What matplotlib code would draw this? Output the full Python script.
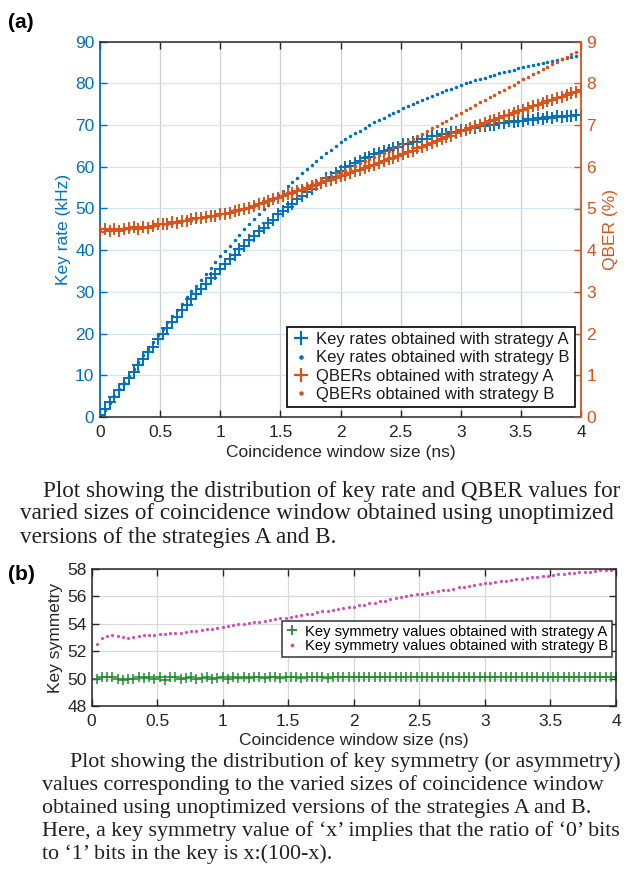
import numpy as np
import matplotlib
matplotlib.use('Agg')
import matplotlib.pyplot as plt
from matplotlib.lines import Line2D

plt.rcParams['font.family'] = ['Liberation Sans', 'DejaVu Sans']

# ---------------- data ----------------
step = 0.04
xtick_vals = [0, 0.5, 1, 1.5, 2, 2.5, 3, 3.5, 4]
xtick_labels = ['0', '0.5', '1', '1.5', '2', '2.5', '3', '3.5', '4']

# panel (a): x = 0, 0.04, ..., 4.00
key_a = [0.4, 1.9, 3.5, 4.8, 6.5, 7.8, 9.4, 10.8, 12.5, 13.9,
         15.6, 16.9, 18.6, 20.0, 21.3, 22.9, 24.1, 25.7, 26.9, 28.4,
         29.4, 30.8, 31.8, 33.3, 34.3, 35.6, 36.6, 37.9, 38.8, 40.2,
         41.1, 42.4, 43.3, 44.5, 45.3, 46.5, 47.3, 48.6, 49.3, 50.4,
         51.1, 52.2, 52.9, 54.0, 54.7, 55.7, 56.2, 57.2, 57.6, 58.6,
         59.1, 59.9, 60.3, 61.0, 61.3, 62.0, 62.4, 63.0, 63.2, 63.8,
         64.0, 64.6, 64.8, 65.4, 65.5, 65.9, 66.0, 66.6, 66.6, 67.3,
         67.3, 67.8, 67.8, 68.4, 68.4, 68.9, 68.9, 69.3, 69.3, 69.7,
         69.7, 70.1, 70.0, 70.5, 70.4, 70.9, 70.7, 71.1, 71.0, 71.5,
         71.2, 71.7, 71.4, 71.9, 71.7, 72.2, 71.9, 72.3, 72.1, 72.5,
         72.4]
key_b = [0.0, 1.65, 3.3, 4.95, 6.6, 8.25, 9.9, 11.5, 13.1, 14.8,
         16.4, 18.1, 19.7, 21.2, 22.7, 24.2, 25.7, 27.2, 28.7, 30.2,
         31.5, 32.9, 34.3, 35.7, 37.1, 38.5, 39.8, 41.1, 42.4, 43.7,
         45.0, 46.3, 47.5, 48.6, 49.8, 50.9, 52.1, 53.2, 54.3, 55.3,
         56.4, 57.4, 58.5, 59.5, 60.5, 61.4, 62.3, 63.2, 64.1, 65.0,
         65.9, 66.6, 67.3, 68.0, 68.7, 69.4, 70.1, 70.7, 71.3, 71.8,
         72.4, 72.9, 73.5, 74.0, 74.5, 75.0, 75.5, 76.0, 76.5, 77.0,
         77.4, 77.9, 78.3, 78.7, 79.2, 79.6, 80.0, 80.3, 80.7, 81.1,
         81.4, 81.8, 82.1, 82.4, 82.7, 83.0, 83.3, 83.6, 83.9, 84.2,
         84.4, 84.7, 84.9, 85.2, 85.4, 85.7, 85.9, 86.1, 86.4, 86.6,
         86.9]
qber_a = [4.44, 4.50, 4.46, 4.52, 4.47, 4.50, 4.53, 4.56, 4.52, 4.55,
          4.53, 4.58, 4.62, 4.64, 4.62, 4.67, 4.66, 4.69, 4.71, 4.74,
          4.78, 4.77, 4.80, 4.82, 4.83, 4.86, 4.88, 4.90, 4.93, 4.96,
          4.99, 5.02, 5.06, 5.10, 5.14, 5.18, 5.22, 5.26, 5.30, 5.34,
          5.37, 5.41, 5.45, 5.49, 5.53, 5.57, 5.61, 5.65, 5.69, 5.73,
          5.77, 5.81, 5.85, 5.89, 5.93, 5.97, 6.01, 6.05, 6.09, 6.13,
          6.18, 6.22, 6.26, 6.30, 6.35, 6.39, 6.44, 6.48, 6.53, 6.57,
          6.62, 6.66, 6.71, 6.75, 6.80, 6.85, 6.89, 6.93, 6.97, 7.01,
          7.05, 7.09, 7.13, 7.17, 7.21, 7.25, 7.29, 7.33, 7.37, 7.41,
          7.45, 7.49, 7.53, 7.57, 7.61, 7.65, 7.68, 7.72, 7.76, 7.80,
          7.84]
qber_b = [4.47, 4.48, 4.48, 4.49, 4.50, 4.51, 4.52, 4.53, 4.54, 4.56,
          4.57, 4.59, 4.61, 4.63, 4.64, 4.66, 4.68, 4.70, 4.72, 4.74,
          4.76, 4.78, 4.80, 4.82, 4.84, 4.86, 4.89, 4.91, 4.94, 4.97,
          5.00, 5.03, 5.07, 5.12, 5.16, 5.21, 5.25, 5.30, 5.35, 5.39,
          5.43, 5.48, 5.52, 5.57, 5.61, 5.66, 5.70, 5.75, 5.79, 5.84,
          5.88, 5.93, 5.98, 6.03, 6.08, 6.13, 6.18, 6.23, 6.28, 6.34,
          6.39, 6.44, 6.50, 6.55, 6.61, 6.67, 6.73, 6.79, 6.85, 6.92,
          6.98, 7.04, 7.11, 7.17, 7.24, 7.30, 7.36, 7.42, 7.48, 7.55,
          7.61, 7.67, 7.73, 7.79, 7.85, 7.91, 7.97, 8.04, 8.10, 8.16,
          8.22, 8.28, 8.34, 8.40, 8.46, 8.52, 8.58, 8.64, 8.70, 8.76,
          8.82]

# panel (b): x = 0.04, 0.08, ..., 4.00
sym_a = [50.0, 50.15, 50.1, 50.15, 49.95, 49.9, 49.95, 50.0, 50.1, 50.05,
         50.15, 49.95, 50.1, 49.9, 50.1, 50.15, 50.0, 50.05, 50.1, 49.95,
         50.05, 50.1, 50.0, 50.05, 50.1, 50.0, 50.1, 50.05, 50.1, 50.05,
         50.1, 50.1, 50.05, 50.1, 50.1, 50.05, 50.1, 50.15, 50.1, 50.05,
         50.1, 50.1, 50.15, 50.1, 50.05, 50.1, 50.1, 50.15, 50.1, 50.1,
         50.15, 50.1, 50.1, 50.15, 50.1, 50.1, 50.15, 50.1, 50.1, 50.15,
         50.1, 50.15, 50.15, 50.1, 50.1, 50.15, 50.1, 50.15, 50.1, 50.1,
         50.15, 50.1, 50.15, 50.15, 50.1, 50.15, 50.1, 50.15, 50.15, 50.1,
         50.15, 50.1, 50.15, 50.1, 50.15, 50.15, 50.1, 50.15, 50.1, 50.15,
         50.15, 50.1, 50.15, 50.15, 50.1, 50.15, 50.15, 50.1, 50.15, 50.15]
sym_b = [52.5, 52.95, 53.1, 53.2, 53.1, 53.05, 53.0, 53.05, 53.1, 53.15,
         53.15, 53.2, 53.25, 53.25, 53.3, 53.3, 53.35, 53.4, 53.45, 53.5,
         53.55, 53.6, 53.65, 53.7, 53.8, 53.85, 53.9, 53.95, 54.0, 54.05,
         54.1, 54.15, 54.2, 54.3, 54.35, 54.4, 54.45, 54.5, 54.6, 54.65,
         54.7, 54.75, 54.85, 54.9, 54.95, 55.0, 55.1, 55.15, 55.2, 55.25,
         55.35, 55.4, 55.5, 55.55, 55.65, 55.7, 55.8, 55.85, 55.95, 56.0,
         56.1, 56.15, 56.2, 56.25, 56.3, 56.4, 56.45, 56.5, 56.55, 56.65,
         56.7, 56.75, 56.8, 56.9, 56.95, 57.0, 57.05, 57.1, 57.15, 57.2,
         57.25, 57.3, 57.35, 57.4, 57.45, 57.5, 57.5, 57.55, 57.6, 57.65,
         57.7, 57.7, 57.75, 57.8, 57.8, 57.85, 57.9, 57.9, 57.95, 58.0]

legend_a = ['Key rates obtained with strategy A', 'Key rates obtained with strategy B',
            'QBERs obtained with strategy A', 'QBERs obtained with strategy B']
legend_b = ['Key symmetry values obtained with strategy A',
            'Key symmetry values obtained with strategy B']

caption_1 = ['Plot showing the distribution of key rate and QBER values for',
             'varied sizes of coincidence window obtained using unoptimized',
             'versions of the strategies A and B.']
caption_2 = ['Plot showing the distribution of key symmetry (or asymmetry)',
             'values corresponding to the varied sizes of coincidence window',
             'obtained using unoptimized versions of the strategies A and B.',
             'Here, a key symmetry value of \u2018x\u2019 implies that the ratio of \u20180\u2019 bits',
             'to \u20181\u2019 bits in the key is x:(100-x).']

# ---------------- styling ----------------
BLUE = '#0072BD'
ORANGE = '#D95319'
GREEN = '#1F8A2E'
PINK = '#D24DBE'
DARK = '#262626'
W, H = 624, 886
FS = 12.5

fig = plt.figure(figsize=(W / 100, H / 100), dpi=100)

x_a = np.round(np.arange(len(key_a)) * step, 2)
x_b = np.round(np.arange(1, len(sym_a) + 1) * step, 2)

# ---------- panel (a) ----------
ax1 = fig.add_axes([100 / W, 1 - 417 / H, 481 / W, 375.3 / H])
ax2 = ax1.twinx()

ax1.plot(x_a, key_a, ls='none', marker='+', ms=8.5, mew=1.4, color=BLUE)
ax1.plot(x_a, key_b, ls='none', marker='.', ms=3.0, color=BLUE)
ax2.plot(x_a, qber_a, ls='none', marker='+', ms=8.5, mew=1.4, color=ORANGE)
ax2.plot(x_a, qber_b, ls='none', marker='.', ms=3.0, color=ORANGE)

ax1.set_xlim(0, 4)
ax1.set_ylim(0, 90)
ax2.set_ylim(0, 9)
ax1.set_xticks(xtick_vals)
ax1.set_xticklabels(xtick_labels)
ax1.set_yticks(range(0, 91, 10))
ax2.set_yticks(range(0, 10))

ax1.xaxis.grid(True, color='#cfcfcf', lw=0.9)
ax1.yaxis.grid(True, color='#d3e5f3', lw=0.9)
ax1.set_axisbelow(True)

ax1.tick_params(axis='x', direction='in', top=True, length=5, width=1,
                colors=DARK, labelsize=FS, pad=6)
ax1.tick_params(axis='y', direction='in', length=5, width=1,
                colors=BLUE, labelsize=FS, pad=4)
ax2.tick_params(axis='y', direction='in', length=5, width=1,
                colors=ORANGE, labelsize=FS, pad=4)

for s in ['top', 'bottom']:
    ax1.spines[s].set_color(DARK)
    ax1.spines[s].set_linewidth(1.1)
ax1.spines['left'].set_color(BLUE)
ax1.spines['left'].set_linewidth(1.3)
ax1.spines['right'].set_visible(False)
for s in ['left', 'top', 'bottom']:
    ax2.spines[s].set_visible(False)
ax2.spines['right'].set_color(ORANGE)
ax2.spines['right'].set_linewidth(1.3)

ax1.set_xlabel('Coincidence window size (ns)', fontsize=FS, color=DARK, labelpad=3)
ax1.set_ylabel('Key rate (kHz)', fontsize=FS, color=BLUE, labelpad=3)
ax2.set_ylabel('QBER (%)', fontsize=FS, color=ORANGE, labelpad=5)

handles_a = [Line2D([], [], ls='none', marker='+', ms=10, mew=1.6, color=BLUE),
             Line2D([], [], ls='none', marker='.', ms=4.5, color=BLUE),
             Line2D([], [], ls='none', marker='+', ms=10, mew=1.6, color=ORANGE),
             Line2D([], [], ls='none', marker='.', ms=4.5, color=ORANGE)]
leg = ax2.legend(handles_a, legend_a, loc='lower right', bbox_to_anchor=(0.9875, 0.0266),
                 borderaxespad=0, fontsize=12, frameon=True, fancybox=False,
                 edgecolor='black', framealpha=1, labelspacing=0.2, handlelength=1.0,
                 handletextpad=0.45, borderpad=0.3)
leg.get_frame().set_linewidth(1.2)
for t in leg.get_texts():
    t.set_color('#1a1a1a')

fig.text(8 / W, 1 - 22 / H, '(a)', fontsize=15, fontweight='bold', va='center', ha='left')

# ---------- panel (b) ----------
axb = fig.add_axes([91.5 / W, 1 - 706 / H, 524.5 / W, 137 / H])
axb.plot(x_b, sym_a, ls='none', marker='+', ms=6.5, mew=1.1, color=GREEN)
axb.plot(x_b, sym_b, ls='none', marker='.', ms=2.6, color=PINK)
axb.set_xlim(0, 4)
axb.set_ylim(48, 58)
axb.set_xticks(xtick_vals)
axb.set_xticklabels(xtick_labels)
axb.set_yticks(range(48, 59, 2))
axb.grid(True, color='#d9d9d9', lw=0.9)
axb.set_axisbelow(True)
axb.tick_params(direction='in', top=True, right=True, length=5, width=1,
                colors=DARK, labelsize=FS)
axb.tick_params(axis='x', pad=6)
for s in axb.spines.values():
    s.set_color(DARK)
    s.set_linewidth(1.1)
axb.set_xlabel('Coincidence window size (ns)', fontsize=FS, color=DARK, labelpad=3)
axb.set_ylabel('Key symmetry', fontsize=FS, color=DARK, labelpad=3)

handles_b = [Line2D([], [], ls='none', marker='+', ms=7, mew=1.3, color=GREEN),
             Line2D([], [], ls='none', marker='.', ms=3.5, color=PINK)]
legb = axb.legend(handles_b, legend_b, loc='lower right', bbox_to_anchor=(0.992, 0.358),
                  borderaxespad=0, fontsize=10.6, frameon=True, fancybox=False,
                  edgecolor='#333333', framealpha=1, labelspacing=0.05, handlelength=0.9,
                  handletextpad=0.4, borderpad=0.25)
legb.get_frame().set_linewidth(1.1)

fig.text(8 / W, 1 - 574 / H, '(b)', fontsize=15, fontweight='bold', va='center', ha='left')

# ---------- captions ----------
SERIF = ['Liberation Serif', 'DejaVu Serif']
renderer = fig.canvas.get_renderer()


def fit_size(lines, targets):
    sizes = []
    for line, tw in zip(lines, targets):
        probe = fig.text(0, 0, line, fontsize=12, family=SERIF)
        wpx = probe.get_window_extent(renderer).width
        probe.remove()
        sizes.append(12 * tw / wpx)
    return min(sizes)


def caption(lines, x_first, x_rest, y0, dy, fs):
    for i, line in enumerate(lines):
        x = x_first if i == 0 else x_rest
        fig.text(x / W, 1 - (y0 + i * dy) / H, line, fontsize=fs, family=SERIF,
                 color='#231f20', ha='left', va='center')


fs1 = fit_size(caption_1[:2], [577, 595])
fs2 = fit_size(caption_2[:4], [552, 575, 560, 580])
caption(caption_1, 43, 20, 491, 23, fs1)
caption(caption_2, 70, 42, 762, 23, fs2)

fig.savefig('out.png', dpi=100)
